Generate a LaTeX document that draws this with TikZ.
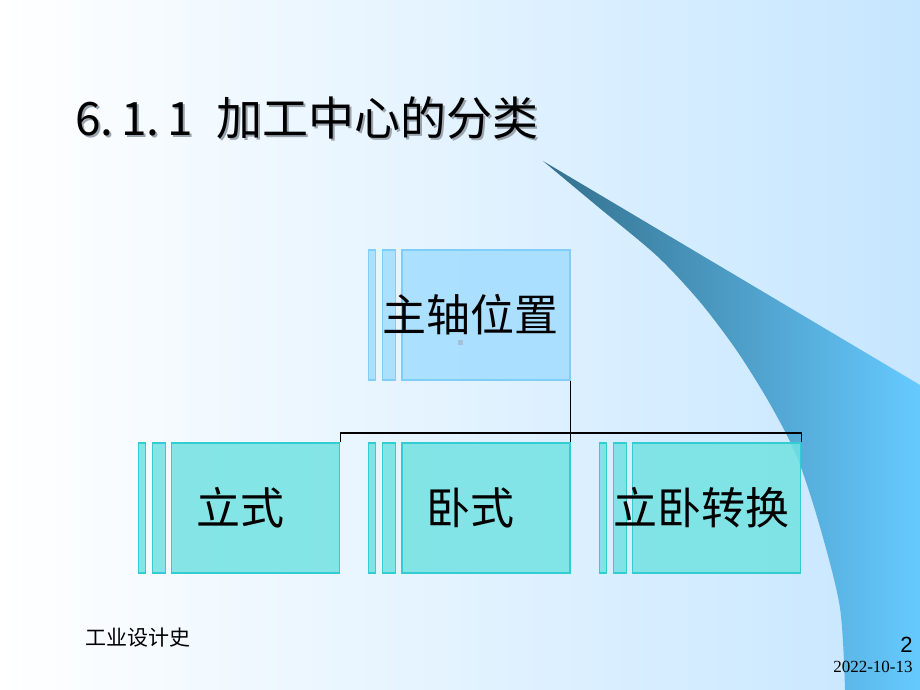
\documentclass[tikz,border=0pt]{standalone}
\usepackage{fontspec}
\setmainfont{Liberation Serif}
\newfontfamily\cjkfont{Noto Sans CJK SC}
\newfontfamily\arialfont{Liberation Sans}
\usetikzlibrary{positioning}
\definecolor{bgblue}{HTML}{C6E6FF}
\definecolor{swdark}{HTML}{336F8C}
\definecolor{swmid}{HTML}{60C0F4}
\definecolor{swlight}{HTML}{66CAFF}
\definecolor{skyfill}{HTML}{A6DEFF}
\definecolor{skyline}{HTML}{7ECEF8}
\definecolor{cyanfill}{HTML}{72E2E2}
\definecolor{cyanline}{HTML}{33CCD2}
\definecolor{titlegray}{HTML}{9AA4AE}
\definecolor{dotgray}{HTML}{A4C0D4}

\begin{document}
\begin{tikzpicture}[x=0.5pt, y=-0.5pt, font=\cjkfont]
    \tikzstyle{mainbox} = [rectangle, minimum width=84pt, minimum height=65pt, inner sep=0pt, line width=0.6pt]
    \tikzstyle{widebar} = [rectangle, minimum width=6.5pt, minimum height=65pt, inner sep=0pt, line width=0.6pt]
    \tikzstyle{thinbar} = [rectangle, minimum width=3.5pt, minimum height=65pt, inner sep=0pt, line width=0.6pt]
    \tikzstyle{skybox} = [draw=skyline, fill=skyfill, fill opacity=0.9]
    \tikzstyle{cyanbox} = [draw=cyanline, fill=cyanfill, fill opacity=0.85]
    \tikzstyle{boxtext} = [font=\cjkfont\fontsize{22}{22}\selectfont, text=black, inner sep=0pt]

    % background and swoosh
    \useasboundingbox (0,0) rectangle (920,690);
    \shade[left color=white, right color=bgblue] (0,0) rectangle (920,690);
    \shade[left color=swdark, middle color=swmid, right color=swlight]
      (543,161) -- (920,385) -- (920,690) -- (845,690)
      -- plot[smooth] coordinates {(845,690) (840,608) (820,527) (797,457) (770,404) (737,351) (700,302) (657,256) (597,206) (543,161)} -- cycle;

    % title
    \node (titleshadow) [anchor=base west, text=titlegray, font=\cjkfont\fontsize{23}{23}\selectfont, inner sep=0pt] at (77,137) {6.\,1.\,1\hspace{12pt}加工中心的分类};
    \node (title) [anchor=base west, font=\cjkfont\fontsize{23}{23}\selectfont, inner sep=0pt] at (75,135) {6.\,1.\,1\hspace{12pt}加工中心的分类};

    % top box
    \node (spindle)  [mainbox, skybox] at (486,315) {};
    \node (spindleb) [widebar, skybox, left=2.5pt of spindle] {};
    \node (spindlea) [thinbar, skybox, left=3pt of spindleb] {};
    \fill[dotgray] (457.5,339.5) rectangle (462.5,344.5);
    \node (spindletxt) [boxtext] at (470,315) {主轴位置};

    % bottom boxes
    \node (vert)  [mainbox, cyanbox] at (255.5,508) {};
    \node (vertb) [widebar, cyanbox, left=2.5pt of vert] {};
    \node (verta) [thinbar, cyanbox, left=3pt of vertb] {};
    \node (horz)  [mainbox, cyanbox] at (486,508) {};
    \node (horzb) [widebar, cyanbox, left=2.5pt of horz] {};
    \node (horza) [thinbar, cyanbox, left=3pt of horzb] {};
    \node (conv)  [mainbox, cyanbox] at (716.5,508) {};
    \node (convb) [widebar, cyanbox, left=2.5pt of conv] {};
    \node (conva) [thinbar, cyanbox, left=3pt of convb] {};

    \node (verttxt) [boxtext] at (240,508) {立式};
    \node (horztxt) [boxtext] at (470,508) {卧式};
    \node (convtxt) [boxtext] at (701,508) {立卧转换};

    % tree lines
    \coordinate (hbar) at (570,433);
    \draw [line width=0.6pt] (spindle.south east) -- (horz.north east);
    \draw [line width=0.6pt] (vert.north east) |- (hbar) -| (conv.north east);

    % footer
    \node (course) [anchor=base west, inner sep=0pt, font=\cjkfont\fontsize{10.5}{10.5}\selectfont] at (85,645) {工业设计史};
    \node (pageno) [anchor=base east, inner sep=0pt, font=\arialfont\fontsize{11}{11}\selectfont] at (913,652) {2};
    \node (date) [anchor=base east, inner sep=0pt, font=\rmfamily\fontsize{8.5}{8.5}\selectfont] at (913,672) {2022-10-13};
\end{tikzpicture}
\end{document}
